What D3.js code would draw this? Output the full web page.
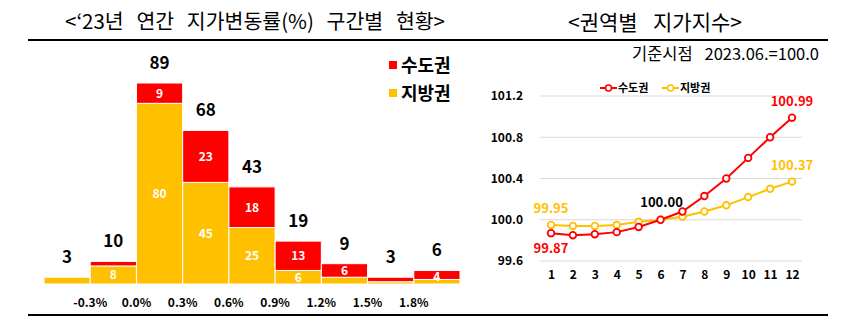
<!DOCTYPE html>
<html>
<head>
<meta charset="utf-8">
<script src="https://cdn.jsdelivr.net/npm/d3@7"></script>
<style>
  html, body { margin: 0; padding: 0; background: #fff; }
  svg { display: block; font-family: "Noto Sans CJK KR", "Noto Sans", sans-serif; }
</style>
</head>
<body>
<svg id="chart" width="848" height="328"></svg>
<script>
// ---------- data ----------
const binLabels = ["-0.3%", "0.0%", "0.3%", "0.6%", "0.9%", "1.2%", "1.5%", "1.8%"];
const metroCounts = [0, 2, 9, 23, 18, 13, 6, 2, 4];      // 수도권
const regionCounts = [3, 8, 80, 45, 25, 6, 3, 1, 2];     // 지방권
const totalCounts = [3, 10, 89, 68, 43, 19, 9, 3, 6];

const months = [1, 2, 3, 4, 5, 6, 7, 8, 9, 10, 11, 12];
const metroIndex = [99.87, 99.85, 99.86, 99.88, 99.93, 100.00, 100.08, 100.23, 100.40, 100.60, 100.80, 100.99];
const regionIndex = [99.95, 99.94, 99.94, 99.95, 99.98, 100.00, 100.03, 100.08, 100.14, 100.22, 100.30, 100.37];
const yTicks = [99.6, 100.0, 100.4, 100.8, 101.2];

const RED = "#FF0000", YEL = "#FFC000";

const svg = d3.select("#chart");

// helper: fit text to a width by spacing words
function fitWords(sel, width) {
  const node = sel.node();
  const len = node.getComputedTextLength();
  const spaces = (sel.text().match(/ /g) || []).length;
  if (spaces > 0) sel.attr("word-spacing", (width - len) / spaces);
}

// ---------- frame lines ----------
svg.append("line").attr("x1", 28).attr("x2", 828).attr("y1", 40).attr("y2", 40)
  .attr("stroke", "#000").attr("stroke-width", 2);
svg.append("line").attr("x1", 28).attr("x2", 828).attr("y1", 315).attr("y2", 315)
  .attr("stroke", "#000").attr("stroke-width", 2);

// ---------- titles ----------
const t1 = svg.append("text").attr("x", 65).attr("y", 29).attr("font-size", 20.5)
  .attr("fill", "#000").text("<‘23년 연간 지가변동률(%) 구간별 현황>");
fitWords(t1, 380);
const t2 = svg.append("text").attr("x", 568).attr("y", 30).attr("font-size", 21)
  .attr("fill", "#000").text("<권역별 지가지수>");
fitWords(t2, 174);
const t3 = svg.append("text").attr("x", 632).attr("y", 60).attr("font-size", 16.5)
  .attr("fill", "#000").text("기준시점 2023.06.=100.0");
fitWords(t3, 187);

// ---------- left: histogram ----------
const idx = d3.range(totalCounts.length);
const xb = d3.scaleBand().domain(idx).range([44, 460]).paddingInner(0).paddingOuter(0);
const yb = d3.scaleLinear().domain([0, 89]).range([284, 83]);

const gL = svg.append("g");
// 지방권 (bottom)
gL.selectAll("rect.reg").data(idx).join("rect")
  .attr("x", i => xb(i)).attr("width", xb.bandwidth())
  .attr("y", i => yb(regionCounts[i])).attr("height", i => yb(0) - yb(regionCounts[i]))
  .attr("fill", YEL).attr("stroke", "#fff").attr("stroke-width", 1);
// 수도권 (top)
gL.selectAll("rect.met").data(idx.filter(i => metroCounts[i] > 0)).join("rect")
  .attr("x", i => xb(i)).attr("width", xb.bandwidth())
  .attr("y", i => yb(regionCounts[i] + metroCounts[i]))
  .attr("height", i => yb(regionCounts[i]) - yb(regionCounts[i] + metroCounts[i]))
  .attr("fill", RED).attr("stroke", "#fff").attr("stroke-width", 1);

// inner labels
gL.selectAll("text.regl").data(idx.filter(i => regionCounts[i] >= 4)).join("text")
  .attr("x", i => xb(i) + xb.bandwidth() / 2)
  .attr("y", i => (yb(0) + yb(regionCounts[i])) / 2 + 4.5)
  .attr("text-anchor", "middle").attr("font-size", 12).attr("font-weight", "bold")
  .attr("fill", "#fff").text(i => regionCounts[i]);
gL.selectAll("text.metl").data(idx.filter(i => metroCounts[i] >= 4)).join("text")
  .attr("x", i => xb(i) + xb.bandwidth() / 2)
  .attr("y", i => (yb(regionCounts[i]) + yb(regionCounts[i] + metroCounts[i])) / 2 + 4.5 + (metroCounts[i] < 5 ? 2 : 0))
  .attr("text-anchor", "middle").attr("font-size", 12).attr("font-weight", "bold")
  .attr("fill", "#fff").text(i => metroCounts[i]);

// totals
gL.selectAll("text.tot").data(idx).join("text")
  .attr("x", i => xb(i) + xb.bandwidth() / 2)
  .attr("y", i => yb(totalCounts[i]) - 14)
  .attr("text-anchor", "middle").attr("font-size", 17).attr("font-weight", "bold")
  .attr("fill", "#000").text(i => totalCounts[i]);

// boundary labels
gL.selectAll("text.bin").data(binLabels).join("text")
  .attr("x", (d, i) => xb(i) + xb.bandwidth())
  .attr("y", 307)
  .attr("text-anchor", "middle").attr("font-size", 12).attr("font-weight", "bold")
  .attr("fill", "#000").text(d => d);

// legend
const legL = [["수도권", RED, 65], ["지방권", YEL, 93]];
legL.forEach(([name, col, cy]) => {
  svg.append("rect").attr("x", 389).attr("y", cy - 4).attr("width", 8).attr("height", 8).attr("fill", col);
  svg.append("text").attr("x", 401).attr("y", cy + 6.5).attr("font-size", 18).attr("font-weight", "bold")
    .attr("fill", "#000").text(name);
});

// ---------- right: line chart ----------
const xl = d3.scaleLinear().domain([1, 12]).range([551, 792]);
const yl = d3.scaleLinear().domain([99.6, 101.2]).range([261, 96]);

const gR = svg.append("g");
gR.selectAll("line.grid").data(yTicks).join("line")
  .attr("x1", 540).attr("x2", 802)
  .attr("y1", d => yl(d)).attr("y2", d => yl(d))
  .attr("stroke", "#d9d9d9").attr("stroke-width", 1);

const yAxis = d3.axisLeft(yl).tickValues(yTicks).tickFormat(d3.format(".1f")).tickSize(0).tickPadding(0);
const yg = gR.append("g").attr("transform", "translate(523,0)").call(yAxis);
yg.select(".domain").remove();
yg.selectAll("text").attr("font-size", 12).attr("font-weight", "bold").attr("fill", "#000")
  .attr("font-family", "'Noto Sans CJK KR', sans-serif");

const xAxis = d3.axisBottom(xl).tickValues(months).tickFormat(d3.format("d")).tickSize(0).tickPadding(0);
const xg = gR.append("g").attr("transform", "translate(0,270)").call(xAxis);
xg.select(".domain").remove();
xg.selectAll("text").attr("font-size", 12).attr("font-weight", "bold").attr("fill", "#000")
  .attr("font-family", "'Noto Sans CJK KR', sans-serif");

const line = d3.line().x((d, i) => xl(months[i])).y(d => yl(d));
[[regionIndex, YEL], [metroIndex, RED]].forEach(([vals, col]) => {
  gR.append("path").datum(vals).attr("d", line).attr("fill", "none")
    .attr("stroke", col).attr("stroke-width", 2);
  gR.selectAll(null).data(vals).join("circle")
    .attr("cx", (d, i) => xl(months[i])).attr("cy", d => yl(d)).attr("r", 3.3)
    .attr("fill", "#fff").attr("stroke", col).attr("stroke-width", 1.8);
});

// value labels
const vlab = [
  [metroIndex[11], 12, -12, RED, "100.99"],
  [regionIndex[11], 12, -12, YEL, "100.37"],
  [regionIndex[0], 1, -12, YEL, "99.95"],
  [metroIndex[0], 1, 20, RED, "99.87"],
  [metroIndex[5], 6, -13, "#000", "100.00"]
];
vlab.forEach(([v, m, dy, col, txt]) => {
  gR.append("text").attr("x", xl(m) + (m === 6 ? 1 : 0)).attr("y", yl(v) + dy)
    .attr("text-anchor", "middle").attr("font-size", 13).attr("font-weight", "bold")
    .attr("fill", col).text(txt);
});

// legend
const legR = [["수도권", RED, 600], ["지방권", YEL, 662]];
legR.forEach(([name, col, x0]) => {
  gR.append("line").attr("x1", x0).attr("x2", x0 + 17).attr("y1", 88).attr("y2", 88)
    .attr("stroke", col).attr("stroke-width", 2);
  gR.append("circle").attr("cx", x0 + 8.5).attr("cy", 88).attr("r", 3)
    .attr("fill", "#fff").attr("stroke", col).attr("stroke-width", 1.6);
  gR.append("text").attr("x", x0 + 18).attr("y", 92).attr("font-size", 11).attr("font-weight", "bold")
    .attr("fill", "#000").text(name);
});
</script>
</body>
</html>
